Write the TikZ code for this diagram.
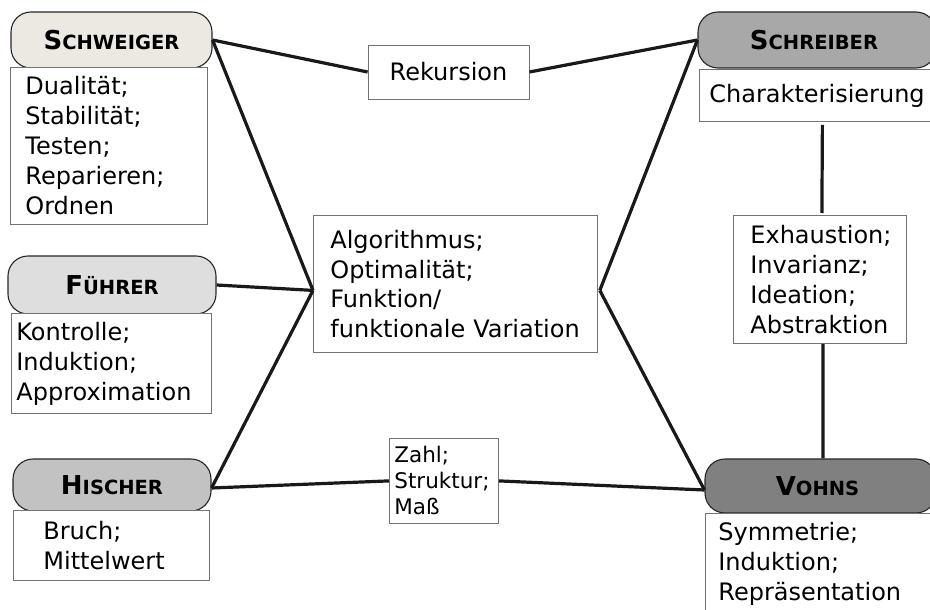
\documentclass[tikz,border=0pt]{standalone}
\usepackage{fontspec}
\setmainfont{DejaVu Sans}
\usetikzlibrary{calc}
% fake small caps for the name headers
\newcommand\capsname[2]{{\fontsize{26}{30}\selectfont #1}{\fontsize{19.5}{24}\selectfont #2}}
\begin{document}
\begin{tikzpicture}[x=1pt,y=-1pt,
  namebox/.style={draw=black!85, line width=1.1pt, rounded corners=20pt,
    inner sep=0pt, font=\bfseries},
  listbox/.style={draw=black!55, line width=0.8pt, fill=white, align=left,
    anchor=north west, inner ysep=0pt,
    font=\fontsize{24}{30}\selectfont},
  smallbox/.style={listbox, font=\fontsize{21.5}{26}\selectfont},
  link/.style={line width=3.2pt, draw=black!90}]
\useasboundingbox (0,0) rectangle (930,610);

% name headers
\node[namebox, fill={rgb,255:red,236;green,233;blue,226}, minimum width=201pt, minimum height=56pt]
  (schw) at (111.5,40) {\capsname{S}{CHWEIGER}};
\node[namebox, fill={rgb,255:red,222;green,222;blue,222}, minimum width=208pt, minimum height=58pt]
  (fuehr) at (112,285) {\capsname{F}{ÜHRER}};
\node[namebox, fill={rgb,255:red,194;green,194;blue,194}, minimum width=198pt, minimum height=52pt]
  (hisch) at (112,485) {\capsname{H}{ISCHER}};
\node[namebox, fill={rgb,255:red,168;green,168;blue,168}, minimum width=238pt, minimum height=56pt]
  (schr) at (817,40) {\capsname{S}{CHREIBER}\hspace*{6pt}};
\node[namebox, fill={rgb,255:red,128;green,128;blue,128}, minimum width=231pt, minimum height=54pt]
  (vohns) at (820.5,486) {\capsname{V}{OHNS}\hspace*{6pt}};

% topic lists under the names
\node[listbox, inner xsep=15pt, text width=167pt, minimum height=157pt]
  (schwl) at (10,67) {Dualität;\\Stabilität;\\Testen;\\Reparieren;\\Ordnen};
\node[listbox, inner xsep=5pt, text width=190pt, minimum height=100pt]
  (fuehrl) at (11,313) {Kontrolle;\\Induktion;\\Approximation};
\node[listbox, inner xsep=30pt, text width=136pt, minimum height=70pt]
  (hischl) at (13,510) {Bruch;\\Mittelwert};
\node[listbox, inner xsep=10pt, text width=212pt, minimum height=52pt]
  (schrl) at (699,69) {Charakterisierung};
\node[listbox, inner xsep=13pt, text width=201pt, minimum height=100pt]
  (vohnsl) at (705,513) {Symmetrie;\\Induktion;\\Repräsentation};

% shared topics
\node[listbox, inner xsep=17pt, text width=139pt, minimum height=128pt]
  (exh) at (733,215) {Exhaustion;\\Invarianz;\\Ideation;\\Abstraktion};
\node[listbox, inner xsep=17pt, text width=250pt, minimum height=137pt,
  font=\fontsize{24}{29.5}\selectfont]
  (ctr) at (313,215) {Algorithmus;\\Optimalität;\\Funktion/\\funktionale Variation};
\node[listbox, anchor=center, align=center, minimum width=161pt, minimum height=54pt]
  (rek) at (448.5,72) {Rekursion};
\node[smallbox, inner xsep=5pt, text width=99pt, minimum height=85pt]
  (zahl) at (389,438) {Zahl;\\Struktur;\\Maß};

% junction points on the central box
\coordinate (cl) at ($(ctr.west)+(0,6.5)$);
\coordinate (cr) at ($(ctr.east)+(2,6.5)$);

% connectors
\draw[link] (schw.east) -- (rek.west);
\draw[link] (rek.east) -- (schr.west);
\draw[link] (schw.east) -- (cl);
\draw[link] (fuehr.east) -- (cl);
\draw[link] ($(hisch.east)+(0,3)$) -- (cl);
\draw[link] ($(hisch.east)+(0,3)$) -- (zahl.west);
\draw[link] (zahl.east) -- ($(vohns.west)+(0,4)$);
\draw[link] (cr) -- (schr.west);
\draw[link] (cr) -- ($(vohns.west)+(0,4)$);
\draw[link] ($(schrl.south)+(7,3)$) -- ($(exh.north)+(2,-2)$);
\draw[link] ($(exh.south)+(3,0)$) -- ($(vohns.north)+(2.5,0)$);
\end{tikzpicture}
\end{document}
